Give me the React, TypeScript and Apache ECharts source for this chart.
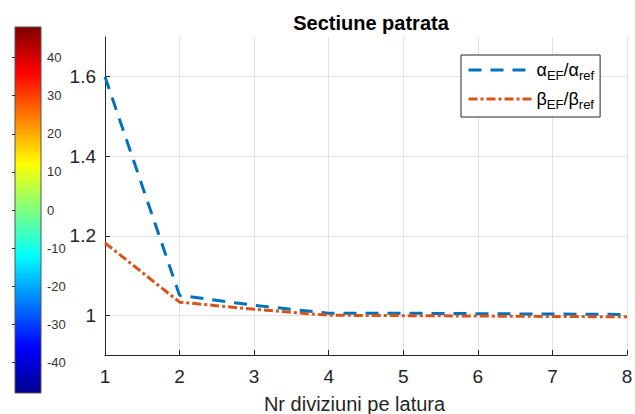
import React, { useEffect, useRef } from "react";
import * as echarts from "echarts";

const xValues = [1, 2, 3, 4, 5, 6, 7, 8];
const alphaRatio = [1.6, 1.05, 1.025, 1.005, 1.005, 1.004, 1.003, 1.002];
const betaRatio = [1.182, 1.033, 1.015, 1.0, 0.999, 0.998, 0.997, 0.996];
const xTicks = [1, 2, 3, 4, 5, 6, 7, 8];
const yTicks = [1, 1.2, 1.4, 1.6];
const colorbarTicks = [-40, -30, -20, -10, 0, 10, 20, 30, 40];
const seriesNames = ["αEF/αref", "βEF/βref"];
const chartTitle = "Sectiune patrata";
const xAxisTitle = "Nr diviziuni pe latura";

export default function App() {
  const ref = useRef<HTMLDivElement>(null);
  useEffect(() => {
    if (!ref.current) return;
    const chart = echarts.init(ref.current, null, { renderer: "svg" });
    const axisColor = "#262626";
    const gridColor = "#e2e2e2";
    const font = "Liberation Sans, Arial, sans-serif";
    chart.setOption({
      animation: false,
      backgroundColor: "#ffffff",
      textStyle: { fontFamily: font },
      title: {
        text: chartTitle,
        left: 366,
        textAlign: "center",
        top: 8,
        textStyle: { fontSize: 20, fontWeight: "bold", color: "#000", fontFamily: font },
      },
      legend: {
        orient: "vertical",
        left: 461,
        top: 55,
        width: 147,
        padding: [6, 6, 6, 6],
        itemGap: 8,
        itemWidth: 63,
        itemHeight: 14,
        borderColor: axisColor,
        borderWidth: 1,
        backgroundColor: "#fff",
        itemStyle: { opacity: 0 },
        lineStyle: { width: 3 },
        data: seriesNames,
        formatter: (name: string) =>
          name === seriesNames[0]
            ? "{g|α}{s|EF}{g|/α}{s|ref}"
            : "{g|β}{s|EF}{g|/β}{s|ref}",
        textStyle: {
          color: "#000",
          rich: {
            g: { fontSize: 18, fontFamily: font, color: "#000", height: 24 },
            s: { fontSize: 13, fontFamily: font, color: "#000", padding: [11, 0, 0, 0] },
          },
        },
      },
      graphic: [
        {
          type: "rect",
          shape: { x: 15, y: 27, width: 26, height: 366 },
          style: {
            fill: new echarts.graphic.LinearGradient(0, 0, 0, 1, [
              { offset: 0, color: "#800000" },
              { offset: 0.125, color: "#ff0000" },
              { offset: 0.375, color: "#ffff00" },
              { offset: 0.625, color: "#00ffff" },
              { offset: 0.875, color: "#0000ff" },
              { offset: 1, color: "#00008f" },
            ]),
            stroke: "#555",
            lineWidth: 1,
          },
          z: 0,
        },
      ],
      grid: [
        { left: 105, right: 8, top: 37, bottom: 59, outerBoundsMode: "none", containLabel: false },
        { left: 15, top: 27, width: 26, height: 366, outerBoundsMode: "none", containLabel: false },
      ],
      xAxis: [
        {
          type: "value",
          gridIndex: 0,
          min: 1,
          max: 8,
          interval: 1,
          name: xAxisTitle,
          nameLocation: "middle",
          nameGap: 39,
          nameTextStyle: { fontSize: 20, color: axisColor, fontFamily: font, padding: [0, 23, 0, 0] },
          axisLine: { show: true, onZero: false, lineStyle: { color: axisColor, width: 1 } },
          axisTick: { show: true, inside: true, length: 5, lineStyle: { color: axisColor } },
          axisLabel: {
            fontSize: 19,
            color: axisColor,
            margin: 12,
            customValues: xTicks,
            showMinLabel: true,
            showMaxLabel: true,
          },
          splitLine: { show: true, lineStyle: { color: gridColor, width: 1 } },
        },
        { type: "value", gridIndex: 1, show: false, min: 0, max: 1 },
      ],
      yAxis: [
        {
          type: "value",
          gridIndex: 0,
          min: 0.9,
          max: 1.7,
          axisLine: { show: true, onZero: false, lineStyle: { color: axisColor, width: 1 } },
          axisTick: { show: true, inside: true, length: 5, customValues: yTicks, lineStyle: { color: axisColor } },
          axisLabel: { fontSize: 19, color: axisColor, margin: 9, customValues: yTicks },
          splitLine: { show: true, lineStyle: { color: gridColor, width: 1 } },
        },
        {
          type: "value",
          gridIndex: 1,
          min: -48,
          max: 48,
          position: "right",
          axisLine: { show: false },
          axisTick: {
            show: true,
            inside: true,
            length: 3,
            customValues: colorbarTicks,
            lineStyle: { color: "#333" },
          },
          axisLabel: { fontSize: 13, color: "#333", margin: 6, customValues: colorbarTicks },
          splitLine: { show: false },
        },
      ],
      series: [
        {
          name: seriesNames[0],
          type: "line",
          xAxisIndex: 0,
          yAxisIndex: 0,
          symbol: "none",
          data: xValues.map((x, i) => [x, alphaRatio[i]]),
          lineStyle: { color: "#0072BD", width: 3, type: [13, 9] },
          itemStyle: { color: "#0072BD" },
          z: 3,
        },
        {
          name: seriesNames[1],
          type: "line",
          xAxisIndex: 0,
          yAxisIndex: 0,
          symbol: "none",
          data: xValues.map((x, i) => [x, betaRatio[i]]),
          lineStyle: { color: "#D95319", width: 3, type: [9, 3, 3, 3] },
          itemStyle: { color: "#D95319" },
          z: 4,
        },
      ],
    });
    return () => chart.dispose();
  }, []);
  return (
    <div
      ref={ref}
      style={{ position: "fixed", left: 0, top: 0, width: 635, height: 414 }}
    />
  );
}
